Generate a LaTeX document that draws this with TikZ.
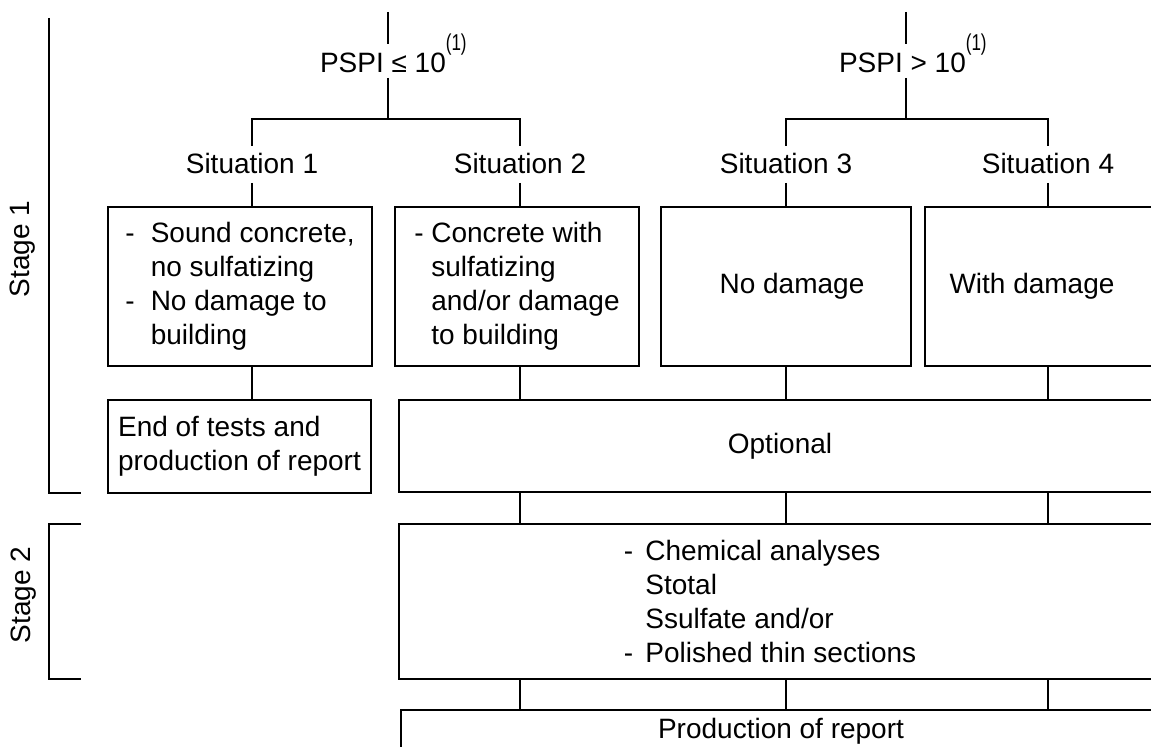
\documentclass[tikz,border=0pt]{standalone}
\usepackage{fontspec}
\setmainfont{Liberation Sans}
\usepackage{tikz}
\usetikzlibrary{positioning,calc}

\newcommand{\itemdash}[1]{\makebox[#1][l]{-}}
\newcommand{\itemgap}[1]{\hspace*{#1}}
\newcommand{\fnone}{\raisebox{11pt}{\scalebox{1}[1.35]{\fontsize{8.5}{8.5}\selectfont(1)}}}

\begin{document}
\begin{tikzpicture}[x=0.5pt,y=-0.5pt,line width=1pt,font=\fontsize{14}{17}\selectfont,
  box/.style={draw,inner sep=0pt,align=left},
  row1/.style={box,minimum height=79.5pt},
  sitlabel/.style={inner sep=0pt,anchor=base,text height=13.5pt,text depth=4pt},
  pspilabel/.style={inner sep=0pt,anchor=base west,text height=14pt,text depth=2pt}]
  \useasboundingbox (0,0) rectangle (1151,747);
  \clip (0,0) rectangle (1151,747);

  % stages
  \node[rotate=90] (stage1) at (23,249) {Stage 1};
  \node[rotate=90] (stage2) at (24,595) {Stage 2};
  \draw (49,18) -- (49,493) -- (81,493);
  \draw (81,524) -- (49,524) -- (49,679) -- (81,679);

  % PSPI split
  \coordinate (inA) at (388,12);
  \coordinate (forkA) at (388,119);
  \coordinate (inB) at (906,12);
  \coordinate (forkB) at (906,119);
  \node[pspilabel] (pspiA) at (319,73) {PSPI ≤ 10\fnone};
  \node[pspilabel] (pspiB) at (838,73) {PSPI > 10\fnone};

  \node[sitlabel] (sit1) at (252,174) {Situation 1};
  \node[sitlabel] (sit2) at (520,174) {Situation 2};
  \node[sitlabel] (sit3) at (786,174) {Situation 3};
  \node[sitlabel] (sit4) at (1048,174) {Situation 4};

  % boxes
  \node[row1,minimum width=132pt] (sbox1) at (240,286.5)
    {\itemdash{12.75pt}Sound concrete,\\\itemgap{12.75pt}no sulfatizing\\
     \itemdash{12.75pt}No damage to\\\itemgap{12.75pt}building};
  \node[row1,minimum width=122pt] (sbox2) at (517,286.5)
    {\itemdash{8.5pt}Concrete with\\\itemgap{8.5pt}sulfatizing\\
     \itemgap{8.5pt}and/or damage\\\itemgap{8.5pt}to building};
  \node[row1,minimum width=125pt] (sbox3) at (786,286.5) {\hspace*{6pt}No damage};
  \node[row1,minimum width=123pt] (sbox4) at (1048,286.5) {With damage\hspace*{16pt}};

  \node[box,minimum width=131.5pt,minimum height=46.5pt] (endbox) at (239.5,446.5)
    {End of tests and\\production of report};
  \node[box,minimum width=381pt,minimum height=46pt] (optbox) at (780,446) {Optional};
  \node[box,minimum width=381pt,minimum height=77.5pt] (chembox) at (780,601.5)
    {\itemdash{10.8pt}Chemical analyses\\\itemgap{10.8pt}Stotal\\
     \itemgap{10.8pt}Ssulfate and/or\\\itemdash{10.8pt}Polished thin sections\hspace*{10pt}};
  \node[box,minimum width=380pt,minimum height=21pt] (repbox) at (781,731)
    {Production of report};

  % connectors
  \draw (inA) -- (inA |- pspiA.north);
  \draw (pspiA.south -| inA) -- (forkA);
  \draw (inB) -- (inB |- pspiB.north);
  \draw (pspiB.south -| inB) -- (forkB);
  \draw (sit1.north) |- (forkA) -| (sit2.north);
  \draw (sit3.north) |- (forkB) -| (sit4.north);
  \foreach \n in {1,...,4}
    \draw (sit\n.south) -- (sit\n.south |- sbox\n.north);
  \draw (sit1 |- sbox1.south) -- (sit1 |- endbox.north);
  \foreach \n in {2,3,4} {
    \draw (sit\n |- sbox\n.south) -- (sit\n |- optbox.north);
    \draw (sit\n |- optbox.south) -- (sit\n |- chembox.north);
    \draw (sit\n |- chembox.south) -- (sit\n |- repbox.north);
  }
\end{tikzpicture}
\end{document}
